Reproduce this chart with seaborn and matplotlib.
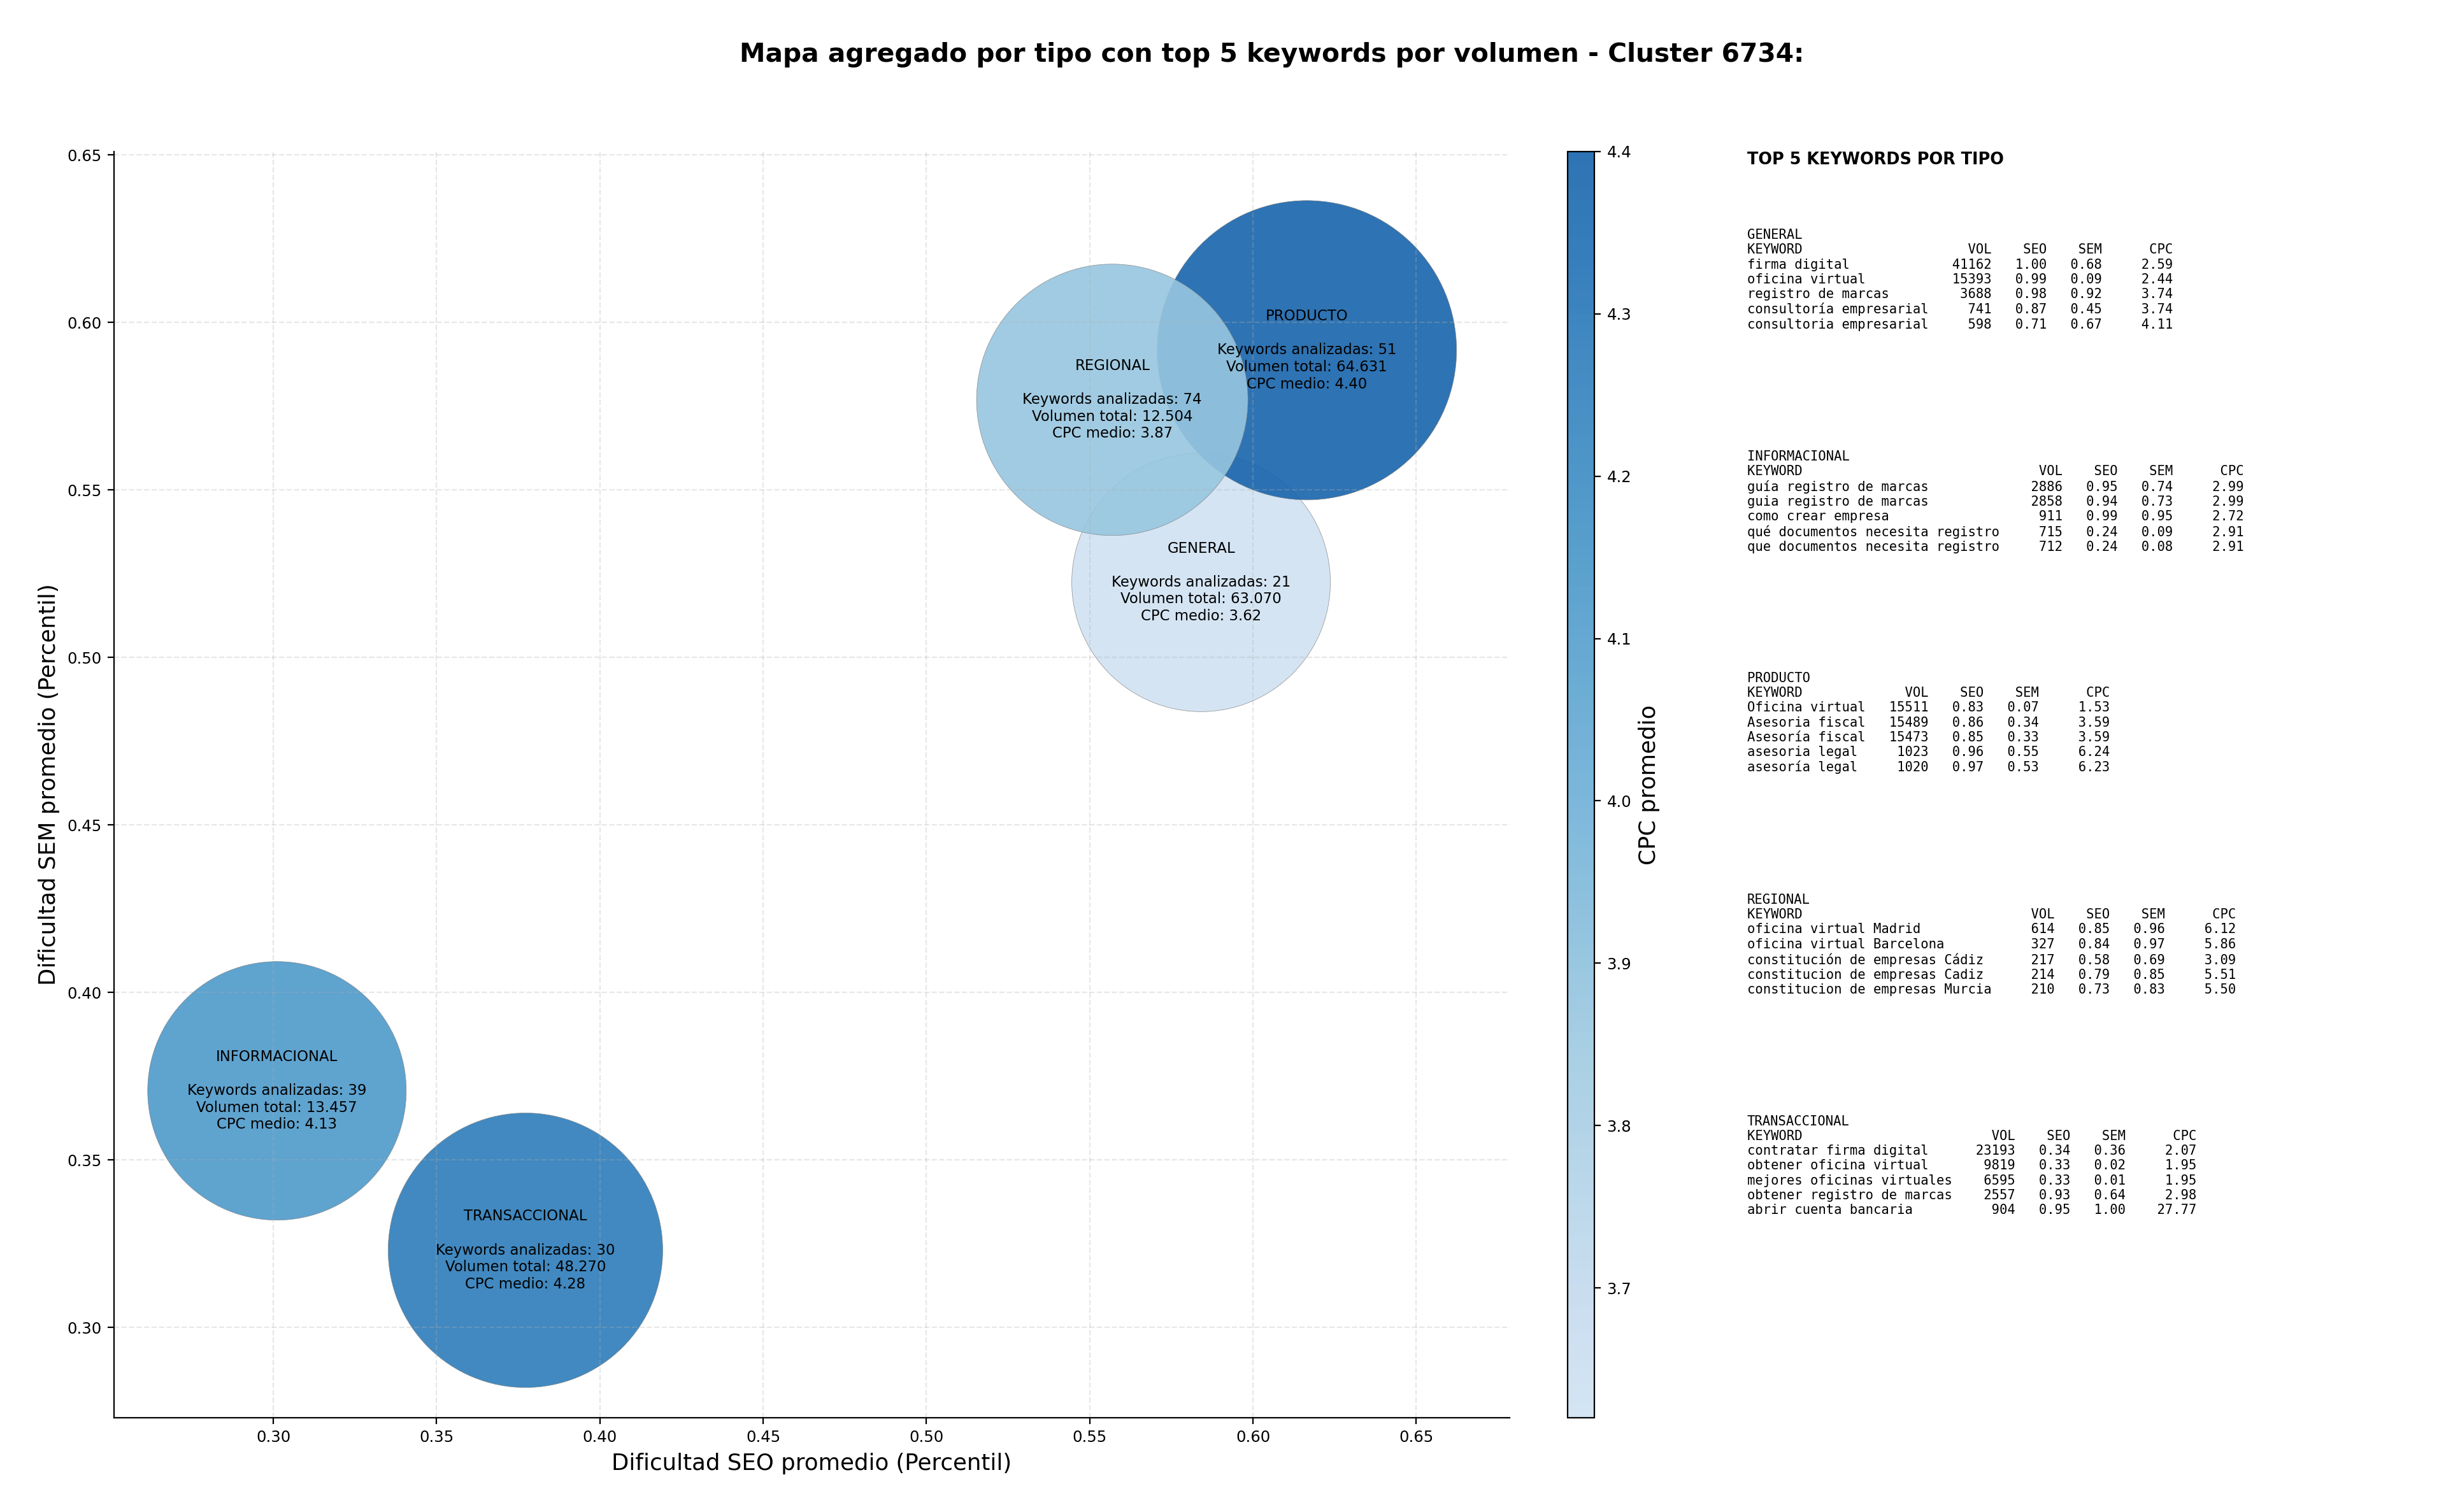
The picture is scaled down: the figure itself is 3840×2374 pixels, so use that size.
#!/usr/bin/env python3
"""
Mapa de burbujas agregado por tipo de keyword (Cluster 6734).
- Burbujas: dificultad SEO vs SEM promedio, color = CPC promedio
- Panel derecho con el top 5 de keywords por volumen de cada tipo
"""

import numpy as np
import pandas as pd
import matplotlib
matplotlib.use("Agg")
import matplotlib.pyplot as plt
import seaborn as sns
from matplotlib.colors import LinearSegmentedColormap, Normalize

# Datos agregados por tipo
tipos = ["GENERAL", "INFORMACIONAL", "PRODUCTO", "REGIONAL", "TRANSACCIONAL"]
seo_medio = [0.5841, 0.3011, 0.6165, 0.5569, 0.3772]
sem_medio = [0.5224, 0.3706, 0.5917, 0.5769, 0.3230]
cpc_medio = [3.62, 4.13, 4.40, 3.87, 4.28]
n_keywords = [21, 39, 51, 74, 30]
volumen_total = [63070, 13457, 64631, 12504, 48270]

# Top 5 keywords por volumen: (keyword, vol, seo, sem, cpc)
top_general = [
    ("firma digital", 41162, 1.00, 0.68, 2.59),
    ("oficina virtual", 15393, 0.99, 0.09, 2.44),
    ("registro de marcas", 3688, 0.98, 0.92, 3.74),
    ("consultoría empresarial", 741, 0.87, 0.45, 3.74),
    ("consultoria empresarial", 598, 0.71, 0.67, 4.11),
]
top_informacional = [
    ("guía registro de marcas", 2886, 0.95, 0.74, 2.99),
    ("guia registro de marcas", 2858, 0.94, 0.73, 2.99),
    ("como crear empresa", 911, 0.99, 0.95, 2.72),
    ("qué documentos necesita registro", 715, 0.24, 0.09, 2.91),
    ("que documentos necesita registro", 712, 0.24, 0.08, 2.91),
]
top_producto = [
    ("Oficina virtual", 15511, 0.83, 0.07, 1.53),
    ("Asesoria fiscal", 15489, 0.86, 0.34, 3.59),
    ("Asesoría fiscal", 15473, 0.85, 0.33, 3.59),
    ("asesoria legal", 1023, 0.96, 0.55, 6.24),
    ("asesoría legal", 1020, 0.97, 0.53, 6.23),
]
top_regional = [
    ("oficina virtual Madrid", 614, 0.85, 0.96, 6.12),
    ("oficina virtual Barcelona", 327, 0.84, 0.97, 5.86),
    ("constitución de empresas Cádiz", 217, 0.58, 0.69, 3.09),
    ("constitucion de empresas Cadiz", 214, 0.79, 0.85, 5.51),
    ("constitucion de empresas Murcia", 210, 0.73, 0.83, 5.50),
]
top_transaccional = [
    ("contratar firma digital", 23193, 0.34, 0.36, 2.07),
    ("obtener oficina virtual", 9819, 0.33, 0.02, 1.95),
    ("mejores oficinas virtuales", 6595, 0.33, 0.01, 1.95),
    ("obtener registro de marcas", 2557, 0.93, 0.64, 2.98),
    ("abrir cuenta bancaria", 904, 0.95, 1.00, 27.77),
]
top_por_tipo = [top_general, top_informacional, top_producto,
                top_regional, top_transaccional]

# Estilo (areas de burbuja en puntos^2)
AREAS = {"GENERAL": 21360, "INFORMACIONAL": 21360, "PRODUCTO": 28630,
         "REGIONAL": 23520, "TRANSACCIONAL": 24080}
DPI = 200


def format_block(tipo, rows):
    """Tabla monoespaciada con el top 5 de un tipo."""
    w = max(len(r[0]) for r in rows)
    lines = [tipo, f"{'KEYWORD':<{w}}{'VOL':>8}{'SEO':>7}{'SEM':>7}{'CPC':>9}"]
    for kw, vol, seo, sem, cpc in rows:
        lines.append(f"{kw:<{w}}{vol:>8}{seo:>7.2f}{sem:>7.2f}{cpc:>9.2f}")
    return "\n".join(lines)


def main():
    df = pd.DataFrame({
        "tipo": tipos, "seo": seo_medio, "sem": sem_medio,
        "cpc": cpc_medio, "n": n_keywords, "vol": volumen_total,
    })

    cmap = LinearSegmentedColormap.from_list(
        "blues_trunc", plt.cm.Blues(np.linspace(0.2, 0.8, 256)))
    norm = Normalize(vmin=df["cpc"].min(), vmax=df["cpc"].max())

    fig = plt.figure(figsize=(3840 / DPI, 2374 / DPI), dpi=DPI)
    ax = fig.add_axes([0.04661, 0.06234, 0.57058, 0.83741])

    sns.scatterplot(data=df, x="seo", y="sem", hue="cpc", palette=cmap,
                    hue_norm=norm, size="tipo", sizes=AREAS, alpha=0.9,
                    edgecolor="grey", linewidth=0.25, legend=False, ax=ax)

    for _, r in df.iterrows():
        vol_txt = f"{r['vol']:,}".replace(",", ".")
        label = (f"{r['tipo']}\n\nKeywords analizadas: {r['n']}\n"
                 f"Volumen total: {vol_txt}\nCPC medio: {r['cpc']:.2f}")
        ax.text(r["seo"], r["sem"], label, ha="center", va="center",
                fontsize=8.2, zorder=5)

    ax.set_xlim(0.2512, 0.6786)
    ax.set_ylim(0.273, 0.651)
    ax.grid(True, linestyle="--", alpha=0.3)
    ax.tick_params(labelsize=8.8)
    ax.set_xlabel("Dificultad SEO promedio (Percentil)", fontsize=12.8)
    ax.set_ylabel("Dificultad SEM promedio (Percentil)", fontsize=12.8)
    sns.despine(ax=ax)

    # Colorbar
    cax = fig.add_axes([0.64089, 0.06234, 0.01094, 0.83741])
    sm = plt.cm.ScalarMappable(norm=norm, cmap=cmap)
    sm.set_array([])
    cb = fig.colorbar(sm, cax=cax, alpha=0.9)
    cb.ax.tick_params(labelsize=8.8)
    cb.set_label("CPC promedio", fontsize=12.8)

    fig.text(0.520, 0.9722,
             "Mapa agregado por tipo con top 5 keywords por volumen - Cluster 6734:",
             ha="center", va="top", fontsize=14.7, fontweight="bold")

    # Panel de texto
    tax = fig.add_axes([0.7143, 0.06234, 0.28, 0.83741])
    tax.axis("off")
    tax.text(0, 1.0, "TOP 5 KEYWORDS POR TIPO", fontsize=9.2,
             fontweight="bold", va="top", transform=tax.transAxes)
    for i, (tipo, rows) in enumerate(zip(tipos, top_por_tipo)):
        tax.text(0, 0.939 - i * 0.175, format_block(tipo, rows),
                 family="DejaVu Sans Mono", fontsize=7.4, va="top",
                 transform=tax.transAxes)

    fig.savefig("out.png", dpi=DPI)
    plt.close(fig)


if __name__ == "__main__":
    main()
